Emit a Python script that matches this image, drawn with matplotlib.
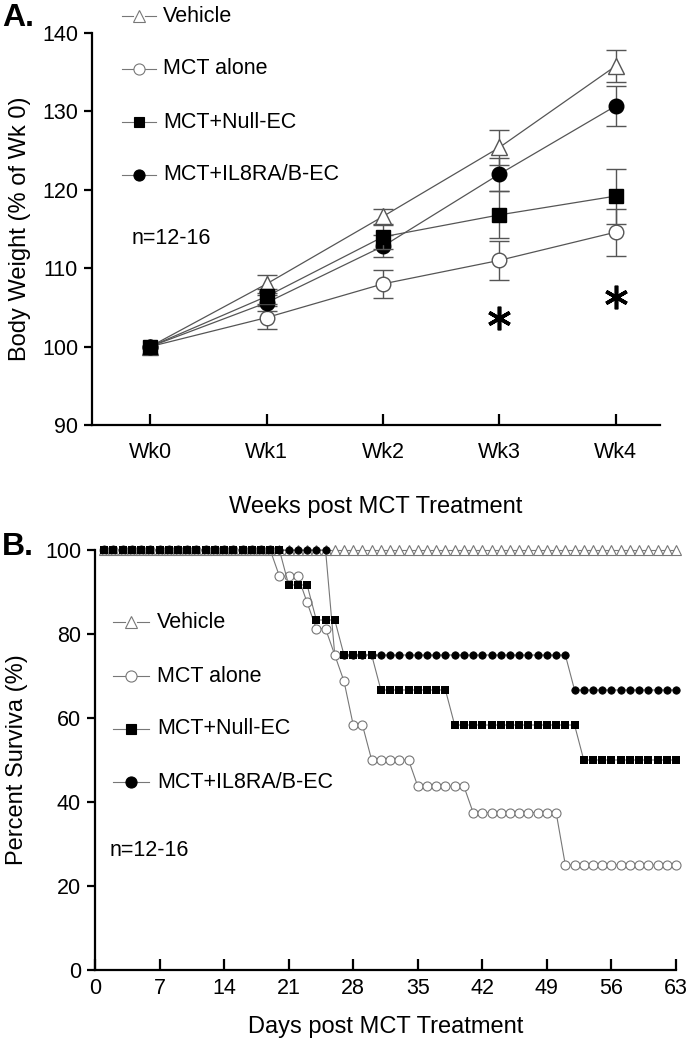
import matplotlib
matplotlib.use("Agg")
import matplotlib.pyplot as plt
from matplotlib.lines import Line2D

plt.rcParams['font.family'] = ['Liberation Sans', 'DejaVu Sans']

# ---------------- Panel A data ----------------
weeks = ['Wk0', 'Wk1', 'Wk2', 'Wk3', 'Wk4']
veh_bw = [100, 108.0, 116.6, 125.4, 135.8]
veh_err = [0, 1.1, 1.0, 2.2, 2.0]
mct_bw = [100, 103.7, 108.0, 111.0, 114.6]
mct_err = [0, 1.5, 1.8, 2.5, 3.0]
null_bw = [100, 106.4, 114.0, 116.8, 119.2]
null_err = [0, 1.0, 1.5, 3.0, 3.5]
il8_bw = [100, 105.6, 112.8, 122.0, 130.7]
il8_err = [0, 1.0, 1.4, 2.1, 2.5]
star_weeks = [3, 4]
star_vals = [103.6, 106.3]

# ---------------- Panel B data ----------------
days = list(range(1, 64))
veh_surv = [100] * 63
mct_surv = ([100] * 19 + [93.75] * 3 + [87.5] + [81.25] * 2 + [75] + [68.75]
            + [58.33] * 2 + [50] * 5 + [43.75] * 6 + [37.5] * 10 + [25] * 13)
null_surv = ([100] * 20 + [91.67] * 3 + [83.33] * 3 + [75] * 4 + [66.67] * 8
             + [58.33] * 14 + [50] * 11)
il8_surv = [100] * 25 + [75] * 26 + [66.67] * 12

labels = ['Vehicle', 'MCT alone', 'MCT+Null-EC', 'MCT+IL8RA/B-EC']

W, H = 690, 1050
fig = plt.figure(figsize=(W / 100, H / 100), dpi=100)


def px_axes(l, t, r, b):
    return fig.add_axes([l / W, 1 - b / H, (r - l) / W, (b - t) / H])


GRAY = '#555555'
LGRAY = '#777777'

# ================= Panel A =================
axA = px_axes(92, 33, 660, 425)
x = list(range(len(weeks)))
styles = [
    (veh_bw, veh_err, dict(marker='^', mfc='white', mec=GRAY, ms=11, mew=1.0), 2),
    (mct_bw, mct_err, dict(marker='o', mfc='white', mec=GRAY, ms=10.5, mew=1.0), 3),
    (il8_bw, il8_err, dict(marker='o', mfc='black', mec='black', ms=10.5, mew=1.0), 4),
    (null_bw, null_err, dict(marker='s', mfc='black', mec='black', ms=10.5, mew=1.0), 5),
]
for vals, err, mk, z in styles:
    axA.plot(x, vals, color=GRAY, lw=0.9, zorder=z, clip_on=False, **mk)
    axA.errorbar(x[1:], vals[1:], yerr=err[1:], fmt='none', ecolor=GRAY,
                 elinewidth=1.0, capsize=7, capthick=1.0, zorder=z - 0.5)
axA.plot(star_weeks, star_vals, linestyle='none', marker=(6, 2, 0), ms=17,
         mew=2.6, color='black', zorder=6)

axA.set_xlim(-0.5, 4.38)
axA.set_ylim(90, 140)
axA.set_xticks(x)
axA.set_xticklabels(weeks)
axA.set_yticks([90, 100, 110, 120, 130, 140])
for s in ['top', 'right']:
    axA.spines[s].set_visible(False)
for s in ['left', 'bottom']:
    axA.spines[s].set_linewidth(1.6)
axA.tick_params(axis='y', direction='out', length=6, width=1.6, labelsize=15.5, pad=4)
axA.tick_params(axis='x', direction='in', length=8, width=1.6, labelsize=15.5, pad=12)
axA.set_ylabel('Body Weight (% of Wk 0)', fontsize=17, labelpad=8)
axA.set_xlabel('Weeks post MCT Treatment', fontsize=17, labelpad=24)

# ================= Panel B =================
axB = px_axes(95, 550, 676, 970)
surv_styles = [
    (veh_surv, dict(marker='^', mfc='white', mec=LGRAY, ms=6.5, mew=0.8), 2),
    (il8_surv, dict(marker='o', mfc='black', mec='black', ms=5.3, mew=0.6), 3),
    (mct_surv, dict(marker='o', mfc='white', mec=LGRAY, ms=6.5, mew=0.8), 4),
    (null_surv, dict(marker='s', mfc='black', mec='black', ms=5.8, mew=0), 5),
]
for vals, mk, z in surv_styles:
    axB.plot(days, vals, color=LGRAY, lw=0.8, zorder=z, clip_on=False, **mk)

axB.set_xlim(0, 63)
axB.set_ylim(0, 100)
axB.set_xticks(range(0, 64, 7))
axB.set_yticks(range(0, 101, 20))
for s in ['top', 'right']:
    axB.spines[s].set_visible(False)
for s in ['left', 'bottom']:
    axB.spines[s].set_linewidth(1.6)
axB.tick_params(axis='y', direction='out', length=6, width=1.6, labelsize=15.5, pad=4)
axB.tick_params(axis='x', direction='in', length=8, width=1.6, labelsize=15.5, pad=6)
axB.set_ylabel('Percent Surviva (%)', fontsize=17, labelpad=12)
axB.set_xlabel('Days post MCT Treatment', fontsize=17, labelpad=12)

# ================= Legends (manual) =================
leg_mk = [
    dict(marker='^', mfc='white', mec=LGRAY, ms=8, mew=0.8),
    dict(marker='o', mfc='white', mec=LGRAY, ms=8, mew=0.8),
    dict(marker='s', mfc='black', mec='black', ms=7, mew=0.8),
    dict(marker='o', mfc='black', mec='black', ms=8, mew=0.8),
]


def legend(x0, xm, x1, xt, ys):
    for lab, mk, yy in zip(labels, leg_mk, ys):
        fy = 1 - yy / H
        fig.add_artist(Line2D([x0 / W, xm / W - 0.008], [fy, fy], color=LGRAY, lw=0.8))
        fig.add_artist(Line2D([xm / W + 0.008, x1 / W], [fy, fy], color=LGRAY, lw=0.8))
        fig.add_artist(Line2D([xm / W], [fy], color=LGRAY, lw=0, **mk))
        fig.text(xt / W, fy, lab, fontsize=15.5, va='center', ha='left')


legend(122, 139, 156, 163, [16, 69, 122, 175])
legend(113, 131, 149, 157, [622, 676, 729, 782])

fig.text(132 / W, 1 - 238 / H, 'n=12-16', fontsize=15.5, va='center')
fig.text(110 / W, 1 - 850 / H, 'n=12-16', fontsize=15.5, va='center')

fig.text(2 / W, 1 - 18 / H, 'A.', fontsize=23, fontweight='bold', va='center')
fig.text(2 / W, 1 - 547 / H, 'B.', fontsize=23, fontweight='bold', va='center')

fig.savefig('out.png', dpi=100)
